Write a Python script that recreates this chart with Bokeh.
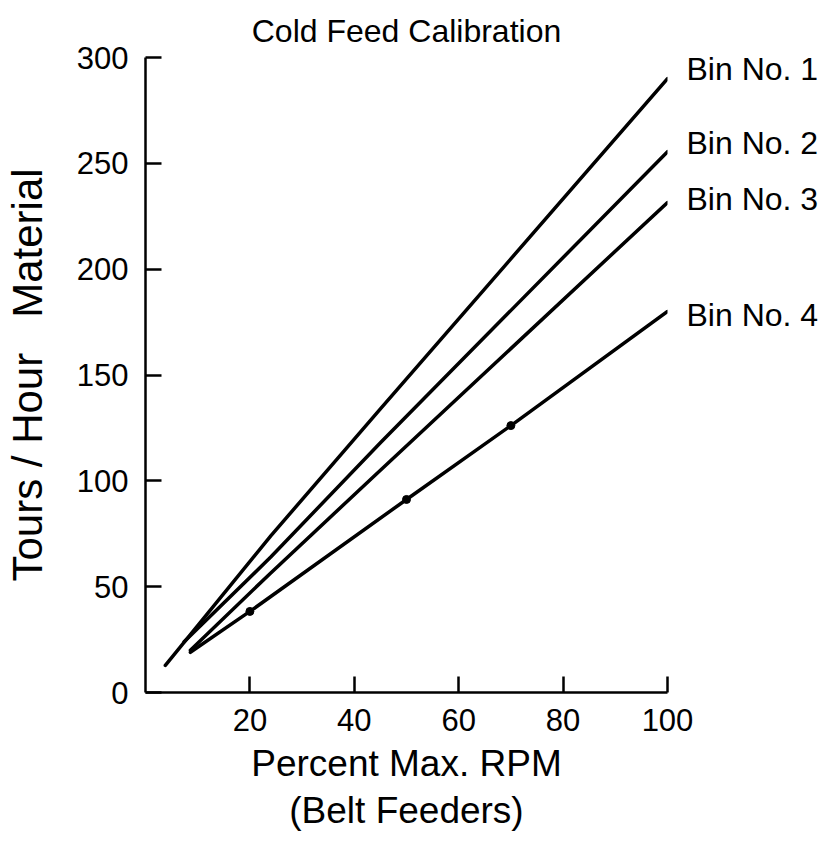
from bokeh.plotting import figure
from bokeh.models import Range1d, FixedTicker, LinearAxis
from bokeh.embed import file_html
from bokeh.resources import INLINE

# ---- data ----
bin1_x = [3.8, 24, 45, 100]
bin1_y = [12.8, 74, 134, 290]
bin2_x = [7.4, 24, 45, 100]
bin2_y = [24, 64, 118, 255.5]
bin3_x = [8.6, 24, 45, 100]
bin3_y = [20, 56.5, 105, 231.5]
bin4_x = [8.6, 20, 50, 70, 100]
bin4_y = [19, 38.3, 91.2, 126.1, 180]
bin4_point_x = [20, 50, 70]
bin4_point_y = [38.3, 91.2, 126.1]

bin_names = ["Bin No. 1", "Bin No. 2", "Bin No. 3", "Bin No. 4"]
label_y = [294.4, 259.5, 233, 178.5]

x_ticks = [20, 40, 60, 80, 100]
y_ticks = [0, 50, 100, 150, 200, 250, 300]

FONT = "Liberation Sans"

p = figure(width=821, height=836,
           x_range=Range1d(0, 100), y_range=Range1d(0, 300),
           output_backend="svg", toolbar_location=None,
           min_border_left=143, min_border_right=152,
           min_border_top=57, min_border_bottom=144,
           background_fill_color="white", border_fill_color="white")

p.title.text = "Cold Feed Calibration"
p.title.align = "center"
p.title.vertical_align = "top"
p.title.text_font = FONT
p.title.text_font_size = "32px"
p.title.text_font_style = "normal"
p.title.text_color = "black"
p.title.text_line_height = 0.8
p.title.standoff = 14

p.outline_line_color = None
p.grid.visible = False

for ax in (p.xaxis[0], p.yaxis[0]):
    ax.axis_line_width = 2.5
    ax.axis_line_color = "black"
    ax.major_tick_line_width = 2.5
    ax.major_tick_line_color = "black"
    ax.major_tick_in = 16
    ax.major_tick_out = 0
    ax.minor_tick_line_color = None
    ax.major_label_text_font = FONT
    ax.major_label_text_font_size = "31px"
    ax.major_label_text_color = "black"
    ax.axis_label_text_font = FONT
    ax.axis_label_text_font_style = "normal"
    ax.axis_label_text_color = "black"

p.xaxis.ticker = FixedTicker(ticks=x_ticks)
p.yaxis.ticker = FixedTicker(ticks=y_ticks)
p.xaxis.major_label_standoff = 16
p.yaxis.major_label_standoff = 17

p.xaxis.axis_label = "Percent Max. RPM\n(Belt Feeders)"
p.xaxis.axis_label_text_font_size = "37px"
p.xaxis.axis_label_text_line_height = 1.15
p.xaxis.axis_label_standoff = 9
p.yaxis.axis_label = "Tours / Hour\u00a0\u00a0\u00a0Material"
p.yaxis.axis_label_text_font_size = "42px"
p.yaxis.axis_label_standoff = 23

# right-hand series labels placed at the line ends
right = LinearAxis(ticker=FixedTicker(ticks=label_y),
                   major_label_overrides={y: n for y, n in zip(label_y, bin_names)})
right.axis_line_color = None
right.major_tick_line_color = None
right.minor_tick_line_color = None
right.major_tick_in = 0
right.major_tick_out = 0
right.major_label_standoff = 19
right.major_label_text_font = FONT
right.major_label_text_font_size = "32px"
right.major_label_text_color = "black"
p.add_layout(right, "right")

for xs, ys in ((bin1_x, bin1_y), (bin2_x, bin2_y), (bin3_x, bin3_y), (bin4_x, bin4_y)):
    p.line(xs, ys, line_width=3.5, line_color="black", line_cap="round", line_join="round")

p.scatter(bin4_point_x, bin4_point_y, size=8, color="black")

open("out.html", "w").write(file_html(p, INLINE))
